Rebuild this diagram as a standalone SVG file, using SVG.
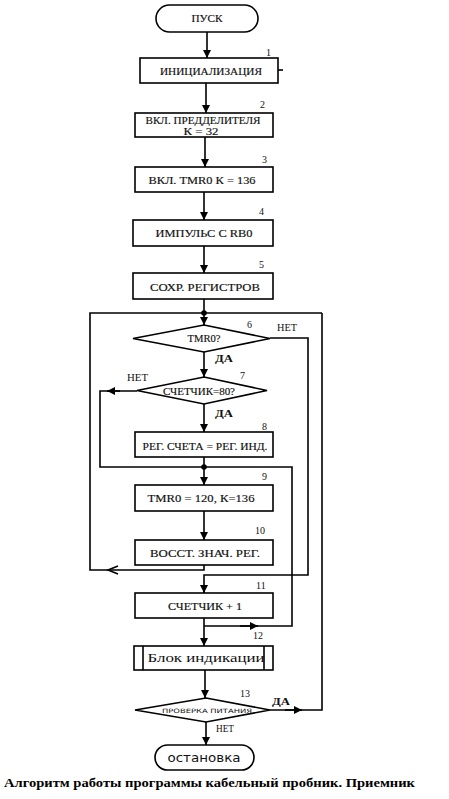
<svg xmlns="http://www.w3.org/2000/svg" width="449" height="799" viewBox="0 0 449 799">
<style>
.b{fill:#fff;stroke:#000;stroke-width:1.6}
.l{fill:none;stroke:#000;stroke-width:1.6}
.t{font-family:"Liberation Serif","Times New Roman",serif;font-size:10px;fill:#111;stroke:#111;stroke-width:0.15;text-anchor:middle;dominant-baseline:central}
.n{font-family:"Liberation Serif","Times New Roman",serif;font-size:10px;fill:#111}
.s{font-family:"DejaVu Sans","Liberation Sans",sans-serif;fill:#111;text-anchor:middle;dominant-baseline:central}
</style>
<defs>
<marker id="a" markerUnits="userSpaceOnUse" markerWidth="8" markerHeight="9" viewBox="0 0 10 10" refX="10" refY="5" orient="auto">
<path d="M0,0 L10,5 L0,10 z" fill="#000"/>
</marker>
</defs>
<rect width="449" height="799" fill="#fff"/>
<g id="connectors">
<path class="l" d="M207,32 V58" marker-end="url(#a)"/>
<path class="l" d="M206,83 V113" marker-end="url(#a)"/>
<path class="l" d="M205,137 V167" marker-end="url(#a)"/>
<path class="l" d="M204,192 V220" marker-end="url(#a)"/>
<path class="l" d="M204,246 V273" marker-end="url(#a)"/>
<path class="l" d="M204,299 V325" marker-end="url(#a)"/>
<path class="l" d="M204,352 V377" marker-end="url(#a)"/>
<path class="l" d="M204,403 V432" marker-end="url(#a)"/>
<path class="l" d="M204,457 V485" marker-end="url(#a)"/>
<path class="l" d="M204,511 V540" marker-end="url(#a)"/>
<path class="l" d="M204,565 V570 H90 V313 H322"/>
<path class="l" d="M118,566 L108,570 L118,574"/>
<path class="l" d="M270,338 H308 V575 H204 V593"/>
<path class="l" d="M204,587 V593" marker-end="url(#a)"/>
<path class="l" d="M137,391 H100 V467 H292 V626 H204"/>
<path class="l" d="M120,391 H107" marker-end="url(#a)"/>
<path class="l" d="M240,626 H258" marker-end="url(#a)"/>
<path class="l" d="M204,618 V646" marker-end="url(#a)"/>
<path class="l" d="M205,670 V698" marker-end="url(#a)"/>
<path class="l" d="M270,710 H322 V313"/>
<path class="l" d="M285,710 H302" marker-end="url(#a)"/>
<path class="l" d="M206,722 V745" marker-end="url(#a)"/>
<circle cx="204" cy="313" r="2.8" fill="#000"/>
<circle cx="204" cy="467" r="2.8" fill="#000"/>
<path class="l" d="M278,70 H283" stroke-width="1"/>
</g>
<g id="start">
<rect class="b" x="156" y="5" width="102" height="27" rx="13.5"/>
<text class="t" x="207" y="18.5" textLength="31" lengthAdjust="spacingAndGlyphs">ПУСК</text>
</g>
<g id="n1">
<rect class="b" x="140" y="58" width="138" height="25"/>
<text class="t" x="211" y="71" textLength="102" lengthAdjust="spacingAndGlyphs">ИНИЦИАЛИЗАЦИЯ</text>
<text class="n" x="266" y="56">1</text>
</g>
<g id="n2">
<rect class="b" x="135" y="113" width="138" height="24"/>
<text class="t" x="203" y="120" textLength="115" lengthAdjust="spacingAndGlyphs">ВКЛ. ПРЕДДЕЛИТЕЛЯ</text>
<text class="t" x="201" y="131.5" textLength="35" lengthAdjust="spacingAndGlyphs">К = 32</text>
<text class="n" x="260" y="108">2</text>
</g>
<g id="n3">
<rect class="b" x="135" y="167" width="138" height="25"/>
<text class="t" x="202" y="180" textLength="107" lengthAdjust="spacingAndGlyphs">ВКЛ. TMR0 К = 136</text>
<text class="n" x="262" y="163">3</text>
</g>
<g id="n4">
<rect class="b" x="133" y="220" width="140" height="26"/>
<text class="t" x="204" y="233" textLength="97" lengthAdjust="spacingAndGlyphs">ИМПУЛЬС С RB0</text>
<text class="n" x="259" y="215">4</text>
</g>
<g id="n5">
<rect class="b" x="133" y="273" width="140" height="26"/>
<text class="t" x="205" y="287" textLength="110" lengthAdjust="spacingAndGlyphs">СОХР. РЕГИСТРОВ</text>
<text class="n" x="259" y="268">5</text>
</g>
<g id="n6">
<polygon class="b" points="204,325 270,338.5 204,352 133,338.5"/>
<text class="t" x="204" y="338.5" textLength="33" lengthAdjust="spacingAndGlyphs">TMR0?</text>
<text class="n" x="247" y="328">6</text>
<text class="n" x="277" y="331" textLength="20" lengthAdjust="spacingAndGlyphs">НЕТ</text>
<text class="n" x="215" y="362" textLength="18" lengthAdjust="spacingAndGlyphs" font-weight="bold">ДА</text>
</g>
<g id="n7">
<polygon class="b" points="204,377 267,390.5 204,404 137,390.5"/>
<text class="t" x="199" y="391" textLength="72" lengthAdjust="spacingAndGlyphs">СЧЕТЧИК=80?</text>
<text class="n" x="240" y="379">7</text>
<text class="n" x="127" y="381" textLength="21" lengthAdjust="spacingAndGlyphs">НЕТ</text>
<text class="n" x="215" y="417" textLength="18" lengthAdjust="spacingAndGlyphs" font-weight="bold">ДА</text>
</g>
<g id="n8">
<rect class="b" x="135" y="432" width="138" height="25"/>
<text class="t" x="205" y="446" textLength="125" lengthAdjust="spacingAndGlyphs">РЕГ. СЧЕТА = РЕГ. ИНД.</text>
<text class="n" x="262" y="430">8</text>
</g>
<g id="n9">
<rect class="b" x="135" y="485" width="138" height="26"/>
<text class="t" x="201" y="498" textLength="107" lengthAdjust="spacingAndGlyphs">TMR0 = 120, К=136</text>
<text class="n" x="262" y="480">9</text>
</g>
<g id="n10">
<rect class="b" x="135" y="540" width="138" height="25"/>
<text class="t" x="205" y="553" textLength="110" lengthAdjust="spacingAndGlyphs">ВОССТ. ЗНАЧ. РЕГ.</text>
<text class="n" x="255" y="534">10</text>
</g>
<g id="n11">
<rect class="b" x="135" y="593" width="138" height="25"/>
<text class="t" x="205" y="606" textLength="74" lengthAdjust="spacingAndGlyphs">СЧЕТЧИК + 1</text>
<text class="n" x="256" y="589">11</text>
</g>
<g id="n12">
<rect class="b" x="134" y="646" width="139" height="24"/>
<path class="l" d="M143,646 V670 M264,646 V670"/>
<text x="206" y="662" font-family="'Liberation Serif','Times New Roman',serif" font-size="12" fill="#111" text-anchor="middle" textLength="117" lengthAdjust="spacingAndGlyphs">Блок индикации</text>
<text class="n" x="253" y="639">12</text>
</g>
<g id="n13">
<polygon class="b" points="206,698 270,710 206,722 135,710"/>
<text class="s" x="207" y="710" font-size="6" textLength="90" lengthAdjust="spacingAndGlyphs">ПРОВЕРКА ПИТАНИЯ</text>
<text class="n" x="240" y="697">13</text>
<text class="n" x="272" y="705" textLength="18" lengthAdjust="spacingAndGlyphs" font-weight="bold">ДА</text>
<text class="n" x="216" y="732" textLength="18" lengthAdjust="spacingAndGlyphs">НЕТ</text>
</g>
<g id="stop">
<rect class="b" x="155" y="745" width="99" height="25" rx="12.5"/>
<text class="s" x="204" y="757.5" font-size="12" textLength="73" lengthAdjust="spacingAndGlyphs">остановка</text>
</g>
<text x="4" y="787" font-family="'Liberation Serif','Times New Roman',serif" font-size="13.5" font-weight="bold" fill="#000" textLength="411" lengthAdjust="spacingAndGlyphs">Алгоритм работы программы кабельный пробник. Приемник</text>
</svg>
